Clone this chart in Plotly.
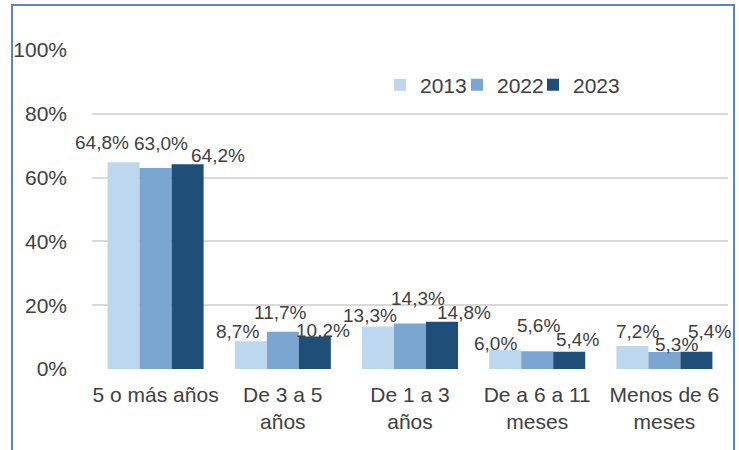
import plotly.graph_objects as go

categories = ["5 o más años", "De 3 a 5<br>años", "De 1 a 3<br>años", "De a 6 a 11<br>meses", "Menos de 6<br>meses"]
series_names = ["2013", "2022", "2023"]
values_2013 = [64.8, 8.7, 13.3, 6.0, 7.2]
values_2022 = [63.0, 11.7, 14.3, 5.6, 5.3]
values_2023 = [64.2, 10.2, 14.8, 5.4, 5.4]
y_ticks = [0, 0.2, 0.4, 0.6, 0.8, 1.0]

series_values = [values_2013, values_2022, values_2023]
colors = ["#BDD7EE", "#7AA6D1", "#1F4E79"]
# data-label nudges (pixels) per series, per category, as placed in the original
label_dx = [[-22, -13, -8, -10, 5], [5, -2, 8, 1, 12], [30, 8, 22, 8, 13]]
label_dy = [[20, 10, 11, 6, 15], [25, 19, 25, 26, 8], [9, 6, 9, 12, 20]]
legend_left_px = [380, 457, 533]

W, H = 739, 450
ml, mr, mt, mb = 92, 11, 50, 81
pw, ph = W - ml - mr, H - mt - mb

bargap = 0.245
bw = (1 - bargap) / 3
xpos = list(range(len(categories)))

FONT = "Liberation Sans, Arial, sans-serif"
TXT = "#404040"

legend_ids = ["legend", "legend2", "legend3"]

fig = go.Figure()
for k, (name, vals, col) in enumerate(zip(series_names, series_values, colors)):
    fig.add_trace(go.Bar(
        x=xpos, y=[v / 100 for v in vals], name=name,
        marker=dict(color=col, line=dict(width=0)),
        legend=legend_ids[k],
    ))

annotations = []
for k, vals in enumerate(series_values):
    for i, v in enumerate(vals):
        annotations.append(dict(
            x=i + (k - 1) * bw, y=v / 100, xref="x", yref="y",
            text=f"{v:.1f}%".replace(".", ","),
            showarrow=False, xanchor="center", yanchor="middle",
            xshift=label_dx[k][i], yshift=label_dy[k][i],
            font=dict(family=FONT, size=19, color=TXT),
        ))

shapes = [dict(
    type="rect", xref="paper", yref="paper",
    x0=(12 - ml) / pw, x1=(734 - ml) / pw,
    y0=(H - mb - 470) / ph, y1=(H - mb - 5) / ph,
    line=dict(color="#5B84C4", width=2), fillcolor="rgba(0,0,0,0)", layer="above",
)]

legend_common = dict(
    orientation="h", y=(H - mb - 85) / ph,
    xanchor="left", yanchor="middle",
    font=dict(family=FONT, size=21, color=TXT),
    bgcolor="rgba(0,0,0,0)", itemwidth=30,
)

fig.update_layout(
    width=W, height=H, autosize=False,
    margin=dict(l=ml, r=mr, t=mt, b=mb, pad=0),
    paper_bgcolor="white", plot_bgcolor="white",
    barmode="group", bargap=bargap, bargroupgap=0,
    font=dict(family=FONT, size=21, color=TXT),
    showlegend=True,
    legend=dict(x=(legend_left_px[0] - ml) / pw, **legend_common),
    legend2=dict(x=(legend_left_px[1] - ml) / pw, **legend_common),
    legend3=dict(x=(legend_left_px[2] - ml) / pw, **legend_common),
    xaxis=dict(
        tickmode="array", tickvals=xpos, ticktext=categories,
        range=[-0.5, len(categories) - 0.5],
        showgrid=False, zeroline=False, showline=False, ticks="",
        tickfont=dict(family=FONT, size=21, color=TXT),
        ticklabelstandoff=11,
    ),
    yaxis=dict(
        range=[0, 1], tickmode="array", tickvals=y_ticks,
        tickformat=".0%", showgrid=True, gridcolor="#D9D9D9", gridwidth=1.5,
        zeroline=False, showline=False, ticks="",
        tickfont=dict(family=FONT, size=21, color=TXT),
        ticklabelstandoff=24,
    ),
    annotations=annotations,
    shapes=shapes,
)

fig.write_html(
    "out.html",
    config={"displayModeBar": False},
    post_script="document.body.style.margin='0';document.body.style.overflow='hidden';",
)
